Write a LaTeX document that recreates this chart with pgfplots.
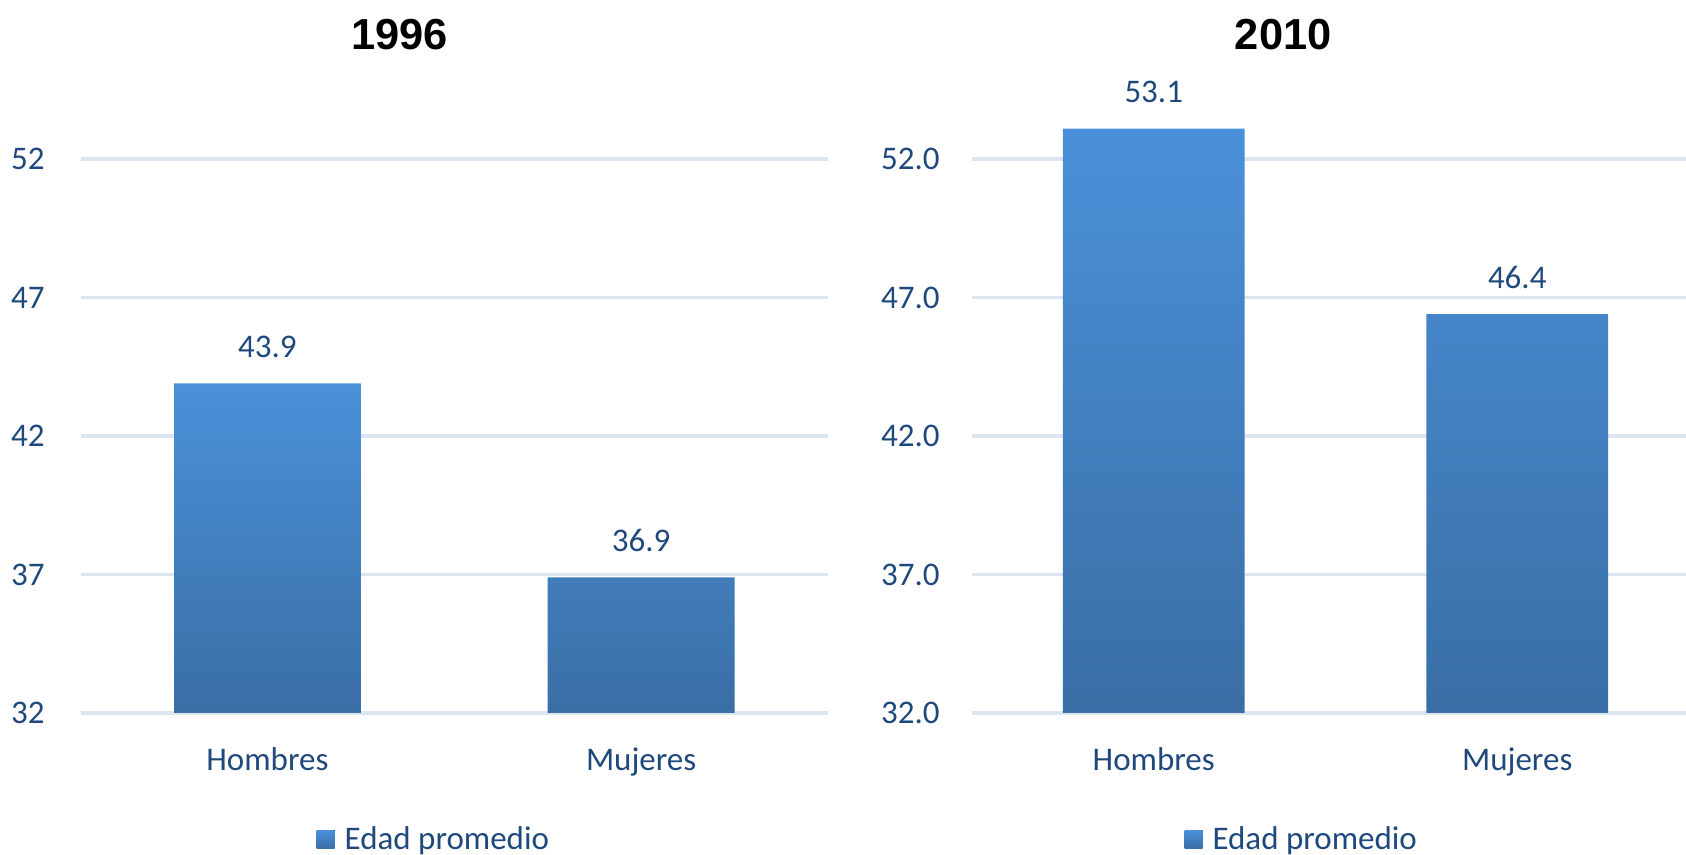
\documentclass[border=0pt]{standalone}
\usepackage{pgfplots}
\usepackage{pgfplotstable}
\pgfplotsset{compat=1.18}
\usepackage{fontspec}
\setmainfont{Carlito}
\newfontfamily\titlefont{Liberation Sans}
\definecolor{txt}{HTML}{1F497D}
\definecolor{gridc}{HTML}{DCE6F2}
\definecolor{bartop}{HTML}{4A91D9}
\definecolor{barbot}{HTML}{3A6EA5}

\pgfplotstableread{
x y
0 43.9
1 36.9
}\datanoventaseis
\pgfplotstableread{
x y
0 53.1
1 46.4
}\datadosmildiez

\pgfplotsset{
  panel/.style={
    scale only axis, anchor=south west,
    height=304.7pt,
    ybar, bar width=0.5,
    axis line style={draw=none}, tick style={draw=none},
    ymajorgrids, grid style={gridc, line width=1.6pt},
    xmin=-0.5, xmax=1.5, ymin=0, ymax=22,
    xtick={0,1}, xticklabels={Hombres,Mujeres},
    ytick={0,5,10,15,20},
    tick label style={font=\fontsize{16.5}{18}\selectfont, text=txt},
    xticklabel style={anchor=base, inner sep=0pt, yshift=-24.3pt},
    nodes near coords,
    point meta=explicit,
    nodes near coords style={font=\fontsize{16.5}{18}\selectfont, text=txt, anchor=base, inner sep=0pt, yshift=13pt,
      /pgf/number format/assume math mode=true,
      /pgf/number format/fixed, /pgf/number format/fixed zerofill, /pgf/number format/precision=1},
    title style={anchor=center, font=\titlefont\bfseries\fontsize{21.7}{24}\selectfont, text=black},
    legend style={anchor=center, draw=none, fill=none, font=\fontsize{16.5}{18}\selectfont, text=txt,
      nodes={inner xsep=5pt}},
    legend image code/.code={\fill[top color=bartop,bottom color=barbot] (0pt,-4.5pt) rectangle (9pt,4.5pt);},
  }
}

\begin{document}
\begin{tikzpicture}
\useasboundingbox (0,0) rectangle (843pt,427.5pt);
\begin{axis}[panel,
  at={(40.3pt,71pt)}, width=373.7pt,
  yticklabels={32,37,42,47,52},
  yticklabel style={inner sep=0pt, xshift=-17.8pt},
  title={1996}, title style={at={(0.427,1.093)}},
  legend style={at={(0.478,-0.207)}},
]
\addplot[draw=none, top color=bartop, bottom color=barbot, y filter/.expression={y-32}] table[x=x, y=y, meta=y] {\datanoventaseis};
\addlegendentry{Edad promedio}
\end{axis}
\begin{axis}[panel,
  at={(486pt,71pt)}, width=363.5pt,
  yticklabels={32.0,37.0,42.0,47.0,52.0},
  yticklabel style={inner sep=0pt, xshift=-16pt},
  title={2010}, title style={at={(0.428,1.093)}},
  legend style={at={(0.459,-0.207)}},
]
\addplot[draw=none, top color=bartop, bottom color=barbot, y filter/.expression={y-32}] table[x=x, y=y, meta=y] {\datadosmildiez};
\addlegendentry{Edad promedio}
\end{axis}
\end{tikzpicture}
\end{document}
